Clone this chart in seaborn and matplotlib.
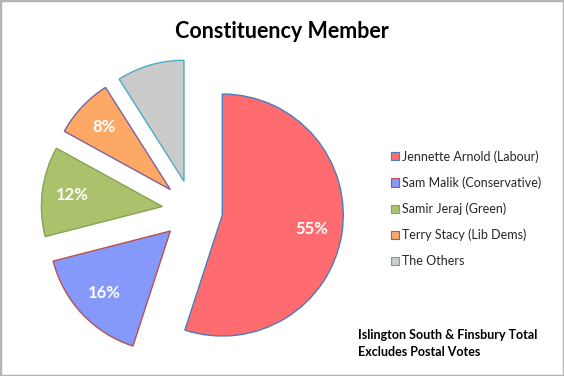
import matplotlib
matplotlib.use("Agg")
import matplotlib.pyplot as plt
import seaborn as sns
from matplotlib.patches import Rectangle

# chart data
candidates = ["Jennette Arnold (Labour)", "Sam Malik (Conservative)", "Samir Jeraj (Green)",
              "Terry Stacy (Lib Dems)", "The Others"]
vote_share = [55, 16, 12, 8, 9]
show_label = [True, True, True, True, False]

fill_colors = ["#ff6b6f", "#8599fb", "#abc26c", "#fea865", "#cbcbcb"]
edge_colors = ["#4a7ebb", "#b9504d", "#8aa34f", "#7d62a0", "#4aacc5"]

sns.set_theme(style="white")
plt.rcParams["font.family"] = ["Lato", "DejaVu Sans"]

W, H = 564, 376
fig = plt.figure(figsize=(W / 100, H / 100), dpi=100)
ax = fig.add_axes([0, 0, 1, 1])

wedges, _, autotexts = ax.pie(
    vote_share, startangle=90, counterclock=False, radius=1,
    explode=[0.25] * len(vote_share), colors=fill_colors,
    autopct=lambda p: f"{p:.0f}%", pctdistance=0.75,
    wedgeprops=dict(linewidth=1.0),
    textprops=dict(color="white", fontsize=12, fontweight="bold"),
)
for w, ec in zip(wedges, edge_colors):
    w.set_edgecolor(ec)
for t, show in zip(autotexts, show_label):
    if not show:
        t.set_text("")

# pie centre at (192, 210) px, radius 121 px
scale = 121.0
cx, cy = 192.4, H - 210.3
ax.set_xlim(-cx / scale, (W - cx) / scale)
ax.set_ylim(-cy / scale, (H - cy) / scale)
ax.set_aspect("auto")
ax.axis("off")

fig.text(0.5, 1 - 31 / H, "Constituency Member", ha="center", va="center",
         fontsize=15.5, fontweight="bold", color="black")

leg = fig.legend(wedges, candidates, loc="upper left",
                 bbox_to_anchor=(391 / W, 1 - 150 / H), frameon=False,
                 fontsize=9, handlelength=0.65, handleheight=0.65,
                 handletextpad=0.25, labelspacing=1.1, borderpad=0,
                 borderaxespad=0)
for h, fc, ec in zip(leg.legend_handles, fill_colors, edge_colors):
    h.set_facecolor(fc)
    h.set_edgecolor(ec)
    h.set_linewidth(0.8)

fig.text(358 / W, 1 - 335 / H, "Islington South & Finsbury Total", ha="left",
         va="center", fontsize=9, fontweight="bold", color="black")
fig.text(358 / W, 1 - 352 / H, "Excludes Postal Votes", ha="left",
         va="center", fontsize=9, fontweight="bold", color="black")

fig.patches.append(Rectangle((0, 0), 1, 1, transform=fig.transFigure, fill=False,
                             edgecolor="#b5b5b5", linewidth=2.5))

fig.savefig("out.png", dpi=100)
